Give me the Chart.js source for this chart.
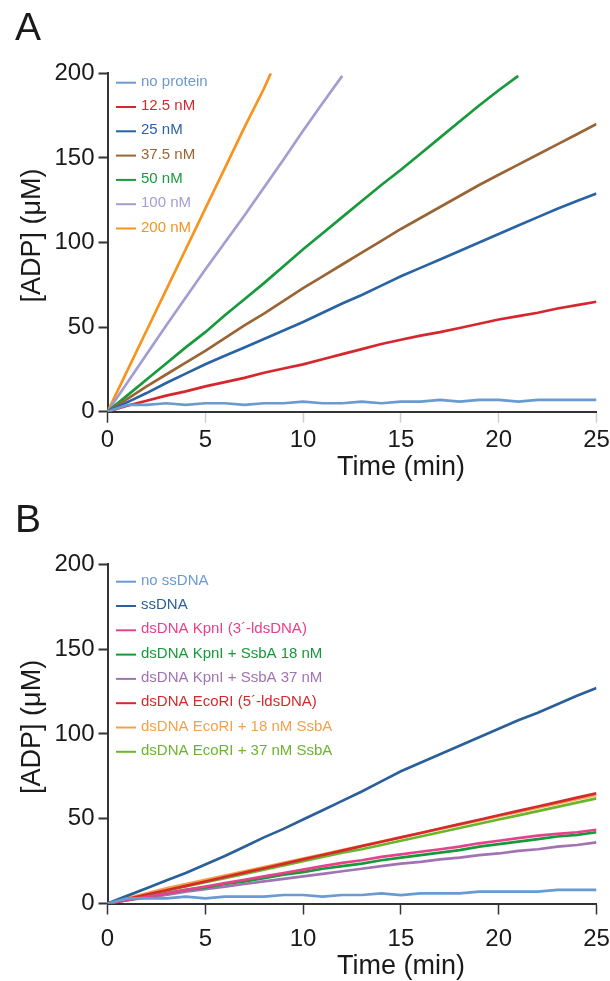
<!DOCTYPE html>
<html>
<head>
<meta charset="utf-8">
<script src="https://cdn.jsdelivr.net/npm/chart.js@4.4.0/dist/chart.umd.min.js"></script>
<style>
  body { margin: 0; background: #fff; }
  canvas { display: block; }
</style>
</head>
<body>
<canvas id="chartA" width="610" height="490"></canvas>
<canvas id="chartB" width="610" height="491"></canvas>
<script>
// time axis (min)
var minutes = [0,1,2,3,4,5,6,7,8,9,10,11,12,13,14,15,16,17,18,19,20,21,22,23,24,25];
var minutes200 = [0,1,2,3,4,5,6,7,8,8.35];
var xTicks = [0,5,10,15,20,25];
var yTicks = [0,50,100,150,200];

// panel A: enzyme concentration series, [ADP] in uM
var labelsA = ['no protein','12.5 nM','25 nM','37.5 nM','50 nM','100 nM','200 nM'];
var colorsA = ['#6a9ad2','#d5282e','#2a63a3','#9a6535','#179a3c','#a29ed2','#f6941e'];
var noProtein = [0,4,4,5,4,5,5,4,5,5,6,5,5,6,5,6,6,7,6,7,7,6,7,7,7,7];
var nM12_5 = [0,3.5,6.5,9.5,12,15,17.5,20,23,25.5,28,31,34,37,40,42.5,45,47,49.5,52,54.5,56.5,58.5,61,63,65];
var nM25 = [0,5.5,11,17,22.5,28,33,38,43,48,53,58.5,64,69,74.5,80,85,90,95,100,105,110,115,120,124.5,129];
var nM37_5 = [0,7.5,15,22,29,36,43.5,51,58,65.5,73,80,87,94,101,108,114.5,121,127.5,134,140,146,152,158,164,170];
var nM50 = [0,9.5,19,28.5,38,47,57,66.5,76,86,96,105.5,115,124.5,134,143,152.5,162,171.5,181,190,198.5];
var nM100 = [0,17,34,51,67.5,84,100,116,132.5,149,166,182.5,198.5];
var nM200 = [0,24,48,72,96,120,144,168,191,200];
var valuesA = [noProtein, nM12_5, nM25, nM37_5, nM50, nM100, nM200];
var timesA = [minutes, minutes, minutes, minutes, minutes, minutes, minutes200];

// panel B: DNA substrate series
var labelsB = ['no ssDNA','ssDNA','dsDNA KpnI (3\u00b4-ldsDNA)','dsDNA KpnI + SsbA 18 nM','dsDNA KpnI + SsbA 37 nM','dsDNA EcoRI (5\u00b4-ldsDNA)','dsDNA EcoRI + 18 nM SsbA','dsDNA EcoRI + 37 nM SsbA'];
var colorsB = ['#6a9ad2','#2a5f9a','#e8418c','#159a3a','#a273b3','#d42a2c','#f5a04a','#6bb52e'];
var noSsDNA = [0,3,3,3,4,3,4,4,4,5,5,4,5,5,6,5,6,6,6,7,7,7,7,8,8,8];
var ssDNA = [0,4.5,9,13.5,18,23,28,33.5,39,44,49.5,55,60.5,66,72,78,83,88,93,98,103,108,112.5,117.5,122.5,127];
var kpnI = [0,2,4,6,8,10,12,14,16,18,20,22,24,25.5,27.5,29,30.5,32,33.5,35.5,37,38.5,40,41,42,43.5];
var kpnI18 = [0,2,4,6,8,9.5,11.5,13,15,17,18.5,20.5,22,23.5,25.5,27,28.5,30,31.5,33.5,35,36.5,38,39.5,40.5,42];
var kpnI37 = [0,2,3.5,5,7,8.5,10,11.5,13,14.5,16,17.5,19,20.5,22,23.5,24.5,26,27,28.5,29.5,31,32,33.5,34.5,36];
var ecoRI = [0,2.6,5.2,7.8,10.4,13,15.6,18.2,20.8,23.4,26,28.6,31.2,33.8,36.4,39,41.6,44.2,46.8,49.4,52,54.6,57.2,59.8,62.4,65];
var ecoRI18 = [0,3,6,9,11.5,14,16.5,19,21.5,24,26.5,29,31.5,34,36.5,39,41.5,44,46.5,49,51.5,54,56.5,59,61.5,64];
var ecoRI37 = [0,2.5,5,7.5,10,12.5,15,17.5,20,22.5,25,27.5,30,32,34.5,37,39.5,42,44.5,47,49.5,52,54.5,57,59.5,62];
var valuesB = [noSsDNA, ssDNA, kpnI, kpnI18, kpnI37, ecoRI, ecoRI18, ecoRI37];

var FONT = '"Liberation Sans", Arial, Helvetica, sans-serif';

// axis titles, panel letter and the in-plot legend
var panelDecor = {
  id: 'panelDecor',
  afterDraw: function(chart, args, opts) {
    var ctx = chart.ctx, area = chart.chartArea;
    ctx.save();
    ctx.fillStyle = '#1a1a1a';
    ctx.font = '39px ' + FONT;
    ctx.textAlign = 'left';
    ctx.textBaseline = 'alphabetic';
    ctx.fillText(opts.letter, 15, opts.letterBase);

    ctx.font = '27px ' + FONT;
    ctx.textAlign = 'center';
    ctx.textBaseline = 'middle';
    ctx.fillText('Time (min)', 401, opts.xTitleY);
    ctx.save();
    ctx.translate(33, (area.top + area.bottom) / 2 - 7);
    ctx.rotate(-Math.PI / 2);
    ctx.fillText('[ADP] (\u03bcM)', 0, 0);
    ctx.restore();

    ctx.font = '15px ' + FONT;
    ctx.textAlign = 'left';
    chart.data.datasets.forEach(function(ds, i) {
      var y = area.top + opts.legendTop + i * 24.3;
      ctx.strokeStyle = ds.borderColor;
      ctx.lineWidth = 2;
      ctx.beginPath();
      ctx.moveTo(116, y);
      ctx.lineTo(136, y);
      ctx.stroke();
      ctx.fillStyle = ds.borderColor;
      ctx.fillText(ds.label, 141, y - 1);
    });
    ctx.restore();
  }
};

function makePanel(id, labels, colors, values, times, opt) {
  var datasets = [];
  for (let i = 0; i < labels.length; i++) {
    datasets.push({
      label: labels[i],
      borderColor: colors[i],
      backgroundColor: colors[i],
      borderWidth: 2.7,
      pointRadius: 0,
      tension: 0,
      data: values[i].map(function(v, j) { return { x: times[i][j], y: v }; })
    });
  }
  var ctx = document.getElementById(id).getContext('2d');
  return new Chart(ctx, {
    type: 'line',
    data: { datasets: datasets },
    plugins: [panelDecor],
    options: {
      responsive: false,
      animation: false,
      devicePixelRatio: 1,
      layout: { padding: { top: opt.top, right: 13.5, left: 0, bottom: 0 } },
      plugins: {
        legend: { display: false },
        tooltip: { enabled: false },
        panelDecor: opt
      },
      scales: {
        x: {
          type: 'linear',
          min: 0,
          max: 25,
          afterBuildTicks: function(s) { s.ticks = xTicks.map(function(v) { return { value: v }; }); },
          afterFit: function(s) { s.height = opt.xHeight; s.paddingRight = 13.5; s.paddingLeft = 0; },
          ticks: { color: '#1a1a1a', font: { family: FONT, size: 24 }, padding: opt.xPad, maxRotation: 0 },
          grid: {
            drawOnChartArea: false,
            tickLength: 11,
            tickWidth: 1.5,
            tickColor: function(c) { return (c.index === 0 || !opt.lightX) ? '#333' : '#cfcfcf'; }
          },
          border: { color: '#333', width: 2 }
        },
        y: {
          min: 0,
          max: 200,
          afterBuildTicks: function(s) { s.ticks = yTicks.map(function(v) { return { value: v }; }); },
          afterFit: function(s) { s.width = 107.5; },
          ticks: { color: '#1a1a1a', font: { family: FONT, size: 24 }, padding: 4 },
          grid: { drawOnChartArea: false, tickLength: 9, tickWidth: 2, tickColor: '#333' },
          border: { color: '#333', width: 2 }
        }
      }
    }
  });
}

makePanel('chartA', labelsA, colorsA, valuesA, timesA,
  { top: 73.3, xHeight: 78.3, letter: 'A', letterBase: 40, xTitleY: 468, xPad: 3, legendTop: 9.4, lightX: true });
makePanel('chartB', labelsB, colorsB, valuesB, labelsB.map(function() { return minutes; }),
  { top: 74.3, xHeight: 77.5, letter: 'B', letterBase: 42, xTitleY: 477, xPad: 10, legendTop: 17.4, lightX: false });
</script>
</body>
</html>
